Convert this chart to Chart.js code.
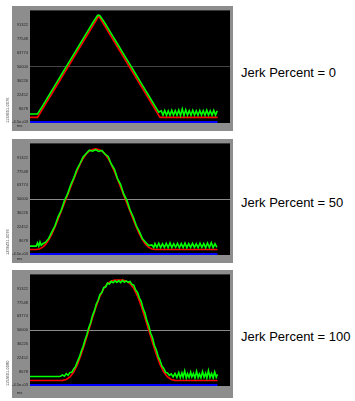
<!DOCTYPE html>
<html><head><meta charset="utf-8">
<script src="https://cdn.jsdelivr.net/npm/chart.js@4"></script>
<style>
html,body{margin:0;padding:0;background:#fff;width:355px;height:401px;overflow:hidden;position:relative;}
canvas{position:absolute;left:0;}
.lbl{position:absolute;left:241px;font:13px "Liberation Sans",Arial,sans-serif;color:#000;line-height:15px;white-space:nowrap;}
</style></head><body>
<canvas id="c1" width="240" height="125" style="top:6px;width:240px;height:125px"></canvas>
<canvas id="c2" width="240" height="124" style="top:139px;width:240px;height:124px"></canvas>
<canvas id="c3" width="240" height="128" style="top:270px;width:240px;height:128px"></canvas>
<div class="lbl" style="top:65px">Jerk Percent = 0</div>
<div class="lbl" style="top:195px">Jerk Percent = 50</div>
<div class="lbl" style="top:329px">Jerk Percent = 100</div>
<script>
// ---- data ----
const xTickValues = [0,25,50,75,100,125,150,175,200,225,250,275,300];
const yTickValues = [-4500,8678,22452,36226,50000,63774,77548,91322];
const yTickLabels = ['-4.5e+03','8678','22452','36226','50000','63774','77548','91322'];
const xUnit = 'ms';
const sideLabels = ['1134601-0076','1236431-0076','1154601-0080'];

const blueTime = [0,300];
const blueVal = [-4500,-4500];

// Jerk Percent = 0
const p1RedTime = [0,12,110,208,300];
const p1RedVal = [0,0,100000,0,0];
const p1GreenTime = [0,11,12,13,15,20,30,40,50,60,70,80,90,100,108,110,112,120,130,140,150,160,170,180,190,200,206,210,
  212.8,215.6,218.4,221.2,224,226.8,229.6,232.4,235.2,238,240.8,243.6,246.4,249.2,252,254.8,257.6,260.4,263.2,266,268.8,271.6,274.4,277.2,280,282.8,285.6,288.4,291.2,294,296.8,299.6];
const p1GreenVal = [3300,3300,3400,4300,6300,11200,21400,31600,41800,52000,62200,72400,82600,92800,100500,100800,100200,92800,82600,72400,62200,52000,41800,31600,21400,11200,5100,6500,
  2300,6800,2200,6400,2100,6900,2400,6600,2200,7200,2000,8200,1900,7500,2300,6700,2200,7000,2400,6500,2100,6800,2300,6600,2200,7100,2400,6400,2200,6900,2300,6500];

// Jerk Percent = 50
const p2RedTime = [0,10,15,20,25,30,35,40,45,50,55,60,65,70,75,80,85,90,95,100,105,110,115,120,125,130,135,140,145,150,155,160,165,170,175,180,185,190,195,200,300];
const p2RedVal = [0,0,500,2000,5000,9500,15300,22300,30000,38000,46000,54000,62000,70000,77700,84700,90500,95000,98000,99500,100000,99500,98000,95000,90500,84700,77700,70000,62000,54000,46000,38000,30000,22300,15300,9500,5000,2000,500,0,0];
const p2GreenTime = [0,5,10,12,14,16,18,20,25,30,35,40,45,50,55,60,65,70,75,80,85,90,95,100,105,110,115,120,125,130,135,140,145,150,155,160,165,170,175,180,185,190,195,198,
  200,203,206,209,212,215,218,221,224,227,230,233,236,239,242,245,248,251,254,257,260,263,266,269,272,275,278,281,284,287,290,293,296,299];
const p2GreenVal = [3300,3300,3300,6500,3200,7500,4200,5500,7200,11000,17500,23500,32500,39000,48500,55000,64000,71000,79500,85500,92000,95500,98800,97800,99200,97500,98500,94800,92500,85000,80000,70500,64500,55000,48800,39500,32500,23800,17800,10500,7200,3800,4500,2000,
  5800,2000,6200,1900,5600,2100,6000,1800,6500,2000,5700,2200,6100,1900,5900,2000,6300,1800,5800,2100,6000,2000,5600,1900,6200,2100,5900,1800,6400,2000,6800,1900,5700,2200];

// Jerk Percent = 100
const p3RedTime = [0,46,52,58,64,70,76,82,88,94,100,106,112,118,124,130,136,142,148,154,160,166,172,178,184,190,196,202,208,214,220,226,232,238,300];
const p3RedVal = [0,0,130,1040,3520,8330,16020,26040,37630,50000,62370,73960,83980,91670,96480,98960,99870,100000,99870,98960,96480,91670,83980,73960,62370,50000,37630,26040,16020,8330,3520,1040,130,0,0];
const p3GreenTime = [0,46,49,52,55,58,61,64,67,70,73,76,79,82,85,88,91,94,97,100,103,106,109,112,115,118,121,124,127,130,133,136,139,142,145,148,151,154,157,160,163,166,169,172,175,178,181,184,187,190,193,196,199,202,205,208,211,214,217,220,223,226,229,232,235,238,
  240.5,243,245,247.5,250,252,254.5,257,259,261.5,264,266.5,269,271,273.5,276,278.5,281,283,285.5,288,290.5,293,295.5,298,300];
const p3GreenVal = [4000,4000,4200,5500,4300,6800,5200,8000,8200,11500,14000,19000,23200,29000,33800,40200,45500,52500,57500,64500,69200,75800,79800,85500,87500,92500,93000,96800,96000,98500,97200,99000,97500,99300,97400,99500,97800,99000,97600,98500,95500,94800,90000,87500,82000,78500,71500,67000,59500,54500,47000,42500,35000,30500,24000,20000,14500,12000,8000,7500,5000,6500,3500,7000,3000,8000,
  2800,7500,3200,9500,2600,6800,3000,8200,3500,7000,2500,9000,3000,6500,2800,8800,3300,7200,2600,9800,3000,7000,2700,8500,3200,6000];

// ---- rendering ----
Chart.defaults.font.family = '"Liberation Sans", Arial, sans-serif';
const pts = (t, v) => t.map((x, i) => ({x: x, y: v[i]}));

const framePlugin = {
  id: 'frame',
  beforeDraw(chart) {
    const {ctx, chartArea: a, height} = chart;
    ctx.save();
    ctx.fillStyle = '#8d8d8d';
    ctx.fillRect(12, 0, 221, height);
    ctx.fillStyle = '#000';
    ctx.fillRect(a.left, a.top, a.right - a.left, a.bottom - a.top);
    ctx.restore();
  },
  afterDraw(chart) {
    const {ctx, chartArea: a} = chart;
    const o = chart.options.plugins.frame;
    ctx.save();
    ctx.fillStyle = '#222';
    ctx.font = '4px "Liberation Sans", Arial, sans-serif';
    ctx.textBaseline = 'middle';
    ctx.textAlign = 'left';
    ctx.fillText(xUnit, 17, a.bottom + o.unitOffset);
    ctx.restore();
  }
};

function makeChart(id, red, green, cfg) {
  new Chart(document.getElementById(id), {
    type: 'line',
    data: {
      datasets: [
        {data: green, borderColor: '#00ff00', borderWidth: 1.6, order: 0},
        {data: red, borderColor: '#ff0000', borderWidth: 1.6, order: 1},
        {data: pts(blueTime, blueVal), borderColor: '#0000ff', borderWidth: 2, order: 2}
      ]
    },
    options: {
      responsive: false, animation: false, devicePixelRatio: 1,
      parsing: false,
      elements: {point: {radius: 0}, line: {tension: 0, fill: false}},
      layout: {padding: {left: 0, right: 10, top: cfg.padTop, bottom: 0}},
      plugins: {legend: {display: false}, tooltip: {enabled: false}, frame: {unitOffset: cfg.unitOffset}},
      scales: {
        x: {
          type: 'linear', min: 0, max: 320,
          afterBuildTicks: s => { s.ticks = xTickValues.map(v => ({value: v})); },
          afterFit: s => { s.height = cfg.xAxisH; },
          ticks: {font: {size: 4}, color: '#222', padding: cfg.xLabelPad, maxRotation: 0, autoSkip: false,
                  callback: v => String(v)},
          grid: {display: false}, border: {display: false}
        },
        y: {
          type: 'linear', min: -5500, max: 105500,
          afterBuildTicks: s => { s.ticks = yTickValues.map(v => ({value: v})); },
          afterFit: s => { s.width = 30; },
          ticks: {font: {size: 4}, color: '#222', padding: 2, autoSkip: false,
                  callback: (v, i) => yTickLabels[i]},
          grid: {drawTicks: false, lineWidth: 1,
                 color: c => (c.tick && c.tick.value === 50000) ? cfg.midColor : 'rgba(0,0,0,0)'},
          border: {display: false},
          title: {display: true, text: cfg.side, align: 'start', font: {size: 4}, color: '#444',
                  padding: {top: 5, bottom: 0}}
        }
      }
    },
    plugins: [framePlugin]
  });
}

makeChart('c1', pts(p1RedTime, p1RedVal), pts(p1GreenTime, p1GreenVal),
  {padTop: 4, xAxisH: 8, xLabelPad: 1, unitOffset: 3, midColor: '#444444', side: sideLabels[0]});
makeChart('c2', pts(p2RedTime, p2RedVal), pts(p2GreenTime, p2GreenVal),
  {padTop: 3, xAxisH: 8, xLabelPad: 2, unitOffset: 4, midColor: '#8a8a8a', side: sideLabels[1]});
makeChart('c3', pts(p3RedTime, p3RedVal), pts(p3GreenTime, p3GreenVal),
  {padTop: 3, xAxisH: 12, xLabelPad: 5, unitOffset: 7, midColor: '#8a8a8a', side: sideLabels[2]});
</script>
</body></html>
